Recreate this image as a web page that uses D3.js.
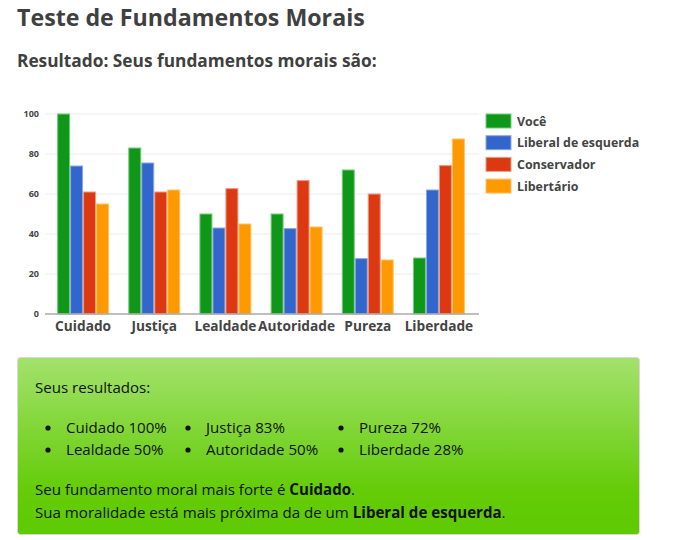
<!DOCTYPE html>
<html>
<head>
<meta charset="utf-8">
<script src="https://cdn.jsdelivr.net/npm/d3@7"></script>
<style>
    body { margin: 0; background: #fff; font-family: "Open Sans", sans-serif; }
    #chart { position: absolute; left: 0; top: 0; }
</style>
</head>
<body>
<div id="chart"></div>
<script>
const categories = ['Cuidado', 'Justiça', 'Lealdade', 'Autoridade', 'Pureza', 'Liberdade'];
const seriesNames = ['Você', 'Liberal de esquerda', 'Conservador', 'Libertário'];
const voce = [100, 83, 50, 50, 72, 28];
const liberal = [74, 75.5, 43, 42.7, 27.7, 62];
const conservador = [61, 61, 62.7, 66.7, 60, 74.2];
const libertario = [55, 62, 45, 43.5, 27, 87.5];
const yTicks = [0, 20, 40, 60, 80, 100];
const resultLines = ['Cuidado 100%', 'Justiça 83%', 'Pureza 72%', 'Lealdade 50%', 'Autoridade 50%', 'Liberdade 28%'];

const colors = ['#109618', '#3366cc', '#dc3912', '#ff9900'];
const borders = ['#6fcf74', '#8aa8e6', '#ee9a84', '#ffc266'];
const series = [voce, liberal, conservador, libertario];

const svg = d3.select('#chart').append('svg')
    .attr('width', 680)
    .attr('height', 540);

// header texts
svg.append('text')
    .attr('x', 17).attr('y', 26)
    .style('font-size', '23.2px').style('font-weight', 'bold').style('fill', '#404040')
    .text('Teste de Fundamentos Morais');

svg.append('text')
    .attr('x', 17).attr('y', 67)
    .style('font-size', '17.3px').style('font-weight', 'bold').style('fill', '#404040')
    .text('Resultado: Seus fundamentos morais são:');

// chart area
const x0 = d3.scaleBand().domain(categories).range([47.5, 474.5]).paddingInner(0.27).paddingOuter(0.135);
const x1 = d3.scaleBand().domain(d3.range(series.length)).range([0, x0.bandwidth()]);
const y = d3.scaleLinear().domain([0, 100]).range([314, 114]);

const g = svg.append('g');

g.selectAll('.grid')
    .data(yTicks.slice(1))
    .enter().append('line')
    .attr('class', 'grid')
    .attr('x1', 45).attr('x2', 479)
    .attr('y1', d => y(d)).attr('y2', d => y(d))
    .style('stroke', '#ebebeb').style('stroke-width', 1);

const yAxis = d3.axisLeft(y).tickValues(yTicks).tickSize(0).tickPadding(6);
const yg = g.append('g').attr('transform', 'translate(45,0)').call(yAxis);
yg.select('.domain').remove();
yg.selectAll('text')
    .style('font-family', '"Open Sans", sans-serif')
    .style('font-size', '9px').style('font-weight', 'bold').style('fill', '#444');

const groups = g.selectAll('.group')
    .data(categories)
    .enter().append('g')
    .attr('class', 'group')
    .attr('transform', d => `translate(${x0(d)},0)`);

groups.selectAll('rect')
    .data((d, i) => series.map((s, k) => ({ k: k, v: s[i] })))
    .enter().append('rect')
    .attr('x', d => x1(d.k) + 0.5)
    .attr('width', x1.bandwidth() - 1)
    .attr('y', d => y(d.v))
    .attr('height', d => y(0) - y(d.v))
    .style('fill', d => colors[d.k])
    .style('stroke', d => borders[d.k])
    .style('stroke-width', 1);

g.append('line')
    .attr('x1', 45).attr('x2', 479)
    .attr('y1', y(0)).attr('y2', y(0))
    .style('stroke', '#aaa').style('stroke-width', 1.5);

const xAxis = d3.axisBottom(x0).tickSize(0).tickPadding(7);
const xg = g.append('g').attr('transform', `translate(0,${y(0)})`).call(xAxis);
xg.select('.domain').remove();
xg.selectAll('text')
    .style('font-family', '"Open Sans", sans-serif')
    .style('font-size', '13.7px').style('font-weight', 'bold').style('fill', '#444');

// legend
const legend = svg.selectAll('.legend')
    .data(seriesNames)
    .enter().append('g')
    .attr('class', 'legend')
    .attr('transform', (d, i) => `translate(486,${114 + i * 21.7})`);

legend.append('rect')
    .attr('width', 25).attr('height', 14)
    .style('fill', (d, i) => colors[i])
    .style('stroke', (d, i) => borders[i]);

legend.append('text')
    .attr('x', 31).attr('y', 11.5)
    .style('font-size', '12.4px').style('font-weight', 'bold').style('fill', '#444')
    .text(d => d);

// results box
const defs = svg.append('defs');
const grad = defs.append('linearGradient').attr('id', 'boxGrad')
    .attr('x1', 0).attr('y1', 0).attr('x2', 0).attr('y2', 1);
grad.append('stop').attr('offset', '0%').attr('stop-color', '#a3e26d');
grad.append('stop').attr('offset', '75%').attr('stop-color', '#64cc08');
grad.append('stop').attr('offset', '100%').attr('stop-color', '#5eca02');

svg.append('rect')
    .attr('x', 17.5).attr('y', 357.5)
    .attr('width', 622).attr('height', 177)
    .attr('rx', 3)
    .style('fill', 'url(#boxGrad)')
    .style('stroke', '#d8d8d8').style('stroke-width', 1);

const txt = svg.append('g')
    .style('font-size', '15.1px').style('fill', '#111');

txt.append('text').attr('x', 35).attr('y', 393).text('Seus resultados:');

const colX = [66, 206, 359];
resultLines.forEach((t, i) => {
    const cx = colX[i % 3];
    const cy = 433 + Math.floor(i / 3) * 22;
    txt.append('circle').attr('cx', cx - 18).attr('cy', cy - 5).attr('r', 2.6).style('fill', '#111');
    txt.append('text').attr('x', cx).attr('y', cy).text(t);
});

const l1 = txt.append('text').attr('x', 35).attr('y', 495);
l1.append('tspan').text('Seu fundamento moral mais forte é ');
l1.append('tspan').style('font-weight', 'bold').text('Cuidado');
l1.append('tspan').text('.');

const l2 = txt.append('text').attr('x', 35).attr('y', 518);
l2.append('tspan').text('Sua moralidade está mais próxima da de um ');
l2.append('tspan').style('font-weight', 'bold').text('Liberal de esquerda');
l2.append('tspan').text('.');
</script>
</body>
</html>
